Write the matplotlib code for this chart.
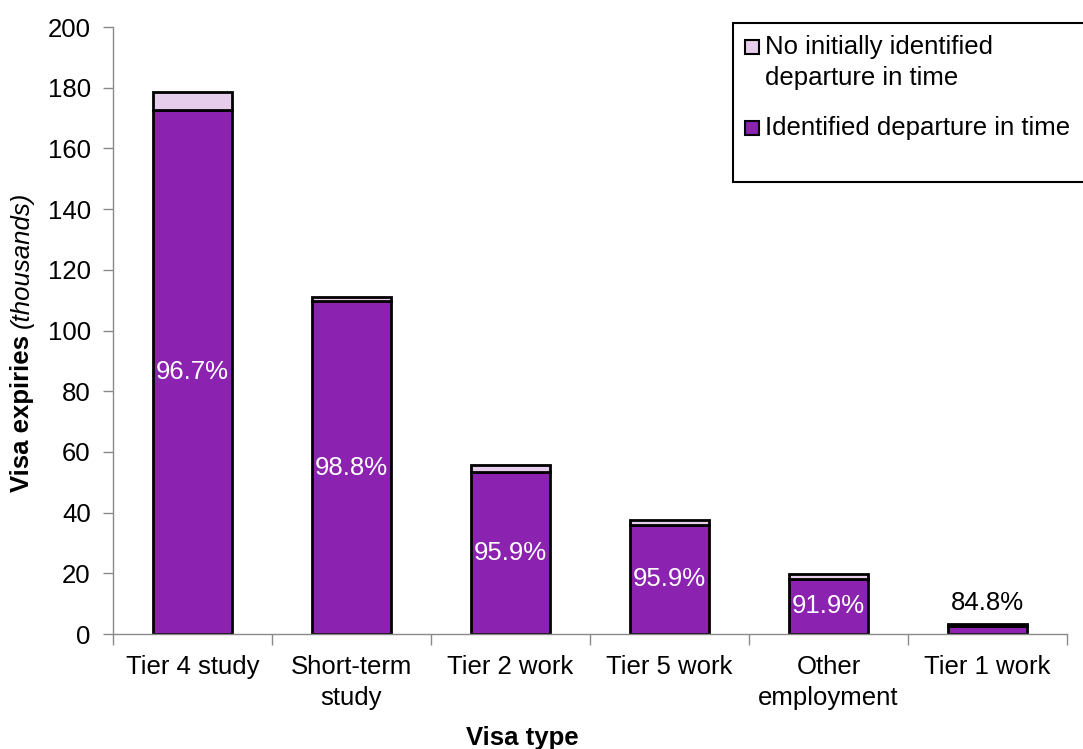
import numpy as np
import matplotlib
matplotlib.use("Agg")
import matplotlib.pyplot as plt
from matplotlib.patches import Rectangle

plt.rcParams['font.family'] = ['Liberation Sans', 'DejaVu Sans']

# data (thousands)
categories = ["Tier 4 study", "Short-term\nstudy", "Tier 2 work", "Tier 5 work",
              "Other\nemployment", "Tier 1 work"]
identified = [172.6, 109.7, 53.4, 36.0, 18.2, 2.8]
not_identified = [5.9, 1.3, 2.3, 1.6, 1.6, 0.5]
pct_labels = ["96.7%", "98.8%", "95.9%", "95.9%", "91.9%", "84.8%"]
legend_lines = [["No initially identified", "departure in time"],
                ["Identified departure in time"]]

dark = "#8C22B0"
light = "#E6CDEB"
grey = "#8a8a8a"
fs = 18.5
W, H = 1083, 749

fig = plt.figure(figsize=(W / 100, H / 100), dpi=100)
ax = fig.add_axes([113 / W, 1 - 634 / H, 954 / W, 607 / H])

x = np.arange(len(categories))
ax.bar(x, identified, width=0.5, color=dark, edgecolor="black", linewidth=2)
ax.bar(x, not_identified, width=0.5, bottom=identified, color=light,
       edgecolor="black", linewidth=2)

# percentage labels, inside the bar when there is room
for i, (v, txt) in enumerate(zip(identified, pct_labels)):
    if v > 10:
        ax.text(i, v / 2, txt, ha="center", va="center", color="white", fontsize=fs)
    else:
        ax.text(i, v + not_identified[i] + 3, txt, ha="center", va="bottom",
                color="black", fontsize=fs)

ax.set_xlim(-0.5, len(categories) - 0.5)
ax.set_ylim(0, 200)
ax.set_yticks(range(0, 201, 20))
ax.tick_params(axis="y", labelsize=fs, color=grey, length=7, width=1, pad=9)
ax.set_xticks(x)
ax.set_xticklabels(categories, fontsize=fs, linespacing=1.4)
ax.tick_params(axis="x", length=0, pad=15)
ax.set_xticks(np.arange(-0.5, len(categories)), minor=True)
ax.tick_params(axis="x", which="minor", length=8, color=grey, width=1)

for s in ["top", "right"]:
    ax.spines[s].set_visible(False)
for s in ["left", "bottom"]:
    ax.spines[s].set_color(grey)
    ax.spines[s].set_linewidth(1)

ax.set_xlabel("Visa type", fontsize=fs, fontweight="bold")
ax.xaxis.set_label_coords((522 - 113) / 954, -92 / 607)

# y label: bold part followed by an italic part
t1 = fig.text(22 / W, 1 - 492 / H, "Visa expiries ", rotation=90, fontsize=fs,
              fontweight="bold", ha="center", va="bottom")
fig.canvas.draw()
bb = t1.get_window_extent()
fig.text(22 / W, bb.y1 / fig.bbox.height, "(thousands)", rotation=90,
         fontsize=fs, fontstyle="italic", ha="center", va="bottom")

# legend box drawn by hand so the swatch sits on the first text line
def px(xp, yp):
    return xp / W, 1 - yp / H

fig.patches.append(Rectangle(px(733, 182), 360 / W, 159 / H, transform=fig.transFigure,
                             facecolor="white", edgecolor="black", linewidth=1.5))
sw = 14
for colour, lines, y0 in [(light, legend_lines[0], 47), (dark, legend_lines[1], 128)]:
    fig.patches.append(Rectangle(px(745, y0 + sw / 2), sw / W, sw / H,
                                 transform=fig.transFigure, facecolor=colour,
                                 edgecolor="black", linewidth=1.5))
    for k, line in enumerate(lines):
        fig.text(*px(765, y0 + 31 * k), line, fontsize=fs, ha="left", va="center")

fig.savefig("out.png", dpi=100)
